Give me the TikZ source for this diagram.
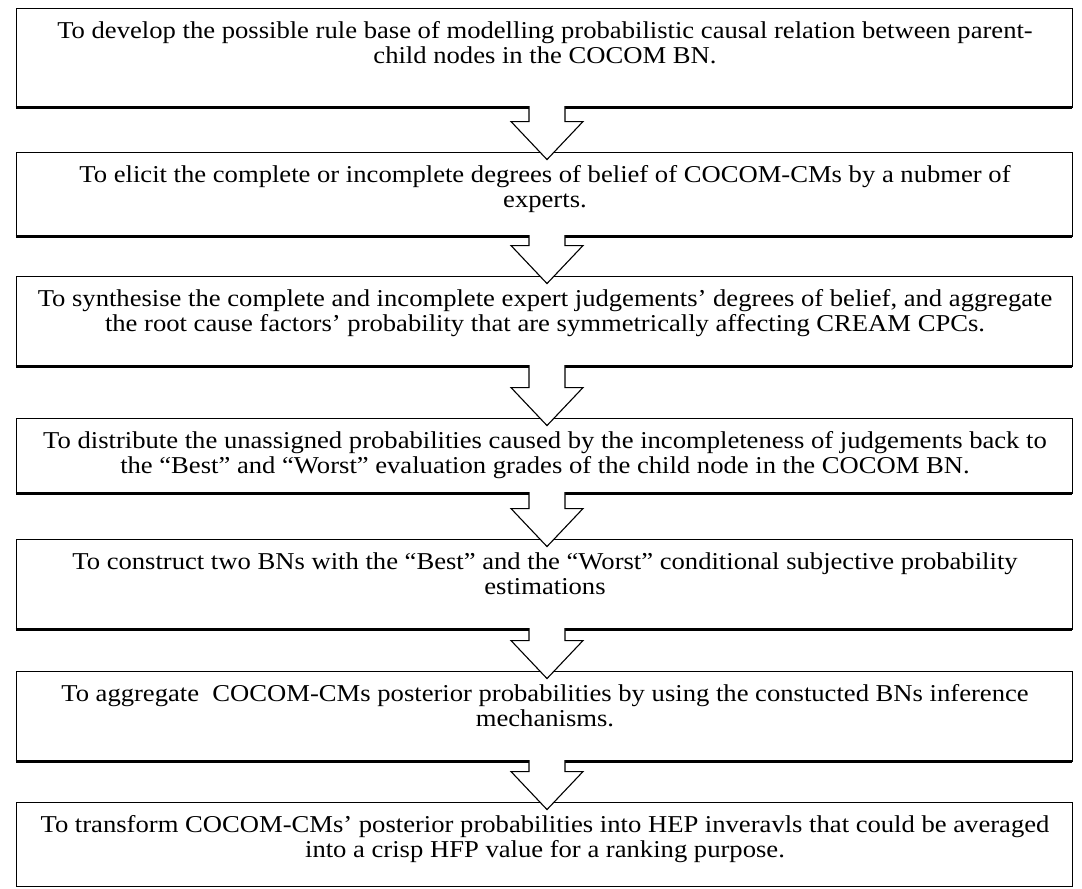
\documentclass[tikz,border=0pt]{standalone}
\usepackage{fontspec}
\setmainfont{Liberation Serif}[FakeStretch=1.1]
\usetikzlibrary{calc}
\begin{document}
\begin{tikzpicture}[x=1pt,y=-1pt,
  stepbox/.style={draw=black, line width=0.9pt, minimum width=1056pt, inner sep=0pt},
  steptext/.style={anchor=north, align=center, inner sep=0pt,
    font=\fontsize{24.2}{25}\selectfont},
  shadowline/.style={line width=2.6pt},
  arrowline/.style={draw=black, line width=1.1pt, line join=miter}]
\useasboundingbox (0,0) rectangle (1082,889);

% step boxes
\node[stepbox, minimum height=99pt] (b1) at (544,57.5) {};
\node[stepbox, minimum height=84pt] (b2) at (544,194) {};
\node[stepbox, minimum height=90pt] (b3) at (544,321) {};
\node[stepbox, minimum height=75pt] (b4) at (544,455.5) {};
\node[stepbox, minimum height=90pt] (b5) at (544,584) {};
\node[stepbox, minimum height=90pt] (b6) at (544,716) {};
\node[stepbox, minimum height=84pt] (b7) at (544,844) {};

% heavier lower edges
\foreach \b in {b1,b2,b3,b4,b5,b6}
  \draw[shadowline] (\b.south west) -- (\b.south east);

% step texts
\node[steptext] (t1) at ([xshift=1pt,yshift=-14pt]b1.north) {To develop the possible rule base of modelling probabilistic causal relation between parent-\\child nodes in the COCOM BN.};
\node[steptext] (t2) at ([xshift=1pt,yshift=-14pt]b2.north) {To elicit the complete or incomplete degrees of belief of COCOM-CMs by a nubmer of\\experts.};
\node[steptext] (t3) at ([xshift=1pt,yshift=-14pt]b3.north) {To synthesise the complete and incomplete expert judgements’ degrees of belief, and aggregate\\the root cause factors’ probability that are symmetrically affecting CREAM CPCs.};
\node[steptext] (t4) at ([xshift=1pt,yshift=-14pt]b4.north) {To distribute the unassigned probabilities caused by the incompleteness of judgements back to\\the “Best” and “Worst” evaluation grades of the child node in the COCOM BN.};
\node[steptext] (t5) at ([xshift=1pt,yshift=-14pt]b5.north) {To construct two BNs with the “Best” and the “Worst” conditional subjective probability\\estimations};
\node[steptext] (t6) at ([xshift=1pt,yshift=-14pt]b6.north) {To aggregate\ \ COCOM-CMs posterior probabilities by using the constucted BNs inference\\mechanisms.};
\node[steptext] (t7) at ([xshift=1pt,yshift=-14pt]b7.north) {To transform COCOM-CMs’ posterior probabilities into HEP inveravls that could be averaged\\into a crisp HFP value for a ranking purpose.};

% block arrows from each box into the next one
\foreach \a/\b in {b1/b2,b2/b3,b3/b4,b4/b5,b5/b6,b6/b7}{
  \coordinate (tip) at ($(\b.north)+(3,8)$);
  \coordinate (top) at (tip |- \a.south);
  \coordinate (neck) at ($(tip)+(0,-38)$);
  \fill[white] ($(top)+(-18,-2)$) -- ($(neck)+(-18,0)$) -- ($(neck)+(-36,0)$)
    -- (tip) -- ($(neck)+(36,0)$) -- ($(neck)+(18,0)$) -- ($(top)+(18,-2)$) -- cycle;
  \draw[arrowline] ($(top)+(-18,-1.3)$) -- ($(neck)+(-18,0)$) -- ($(neck)+(-36,0)$)
    -- (tip) -- ($(neck)+(36,0)$) -- ($(neck)+(18,0)$) -- ($(top)+(18,-1.3)$);
}
\end{tikzpicture}
\end{document}
